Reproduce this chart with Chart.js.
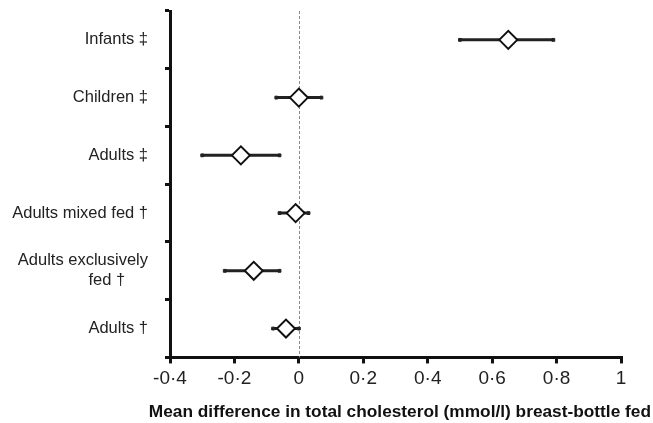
<!DOCTYPE html>
<html>
<head>
<meta charset="utf-8">
<script src="https://cdn.jsdelivr.net/npm/chart.js@4/dist/chart.umd.min.js"></script>
<style>
  html, body { margin: 0; padding: 0; background: #fff; }
  #wrap { width: 653px; height: 423px; }
</style>
</head>
<body>
<div id="wrap"><canvas id="myChart"></canvas></div>
<script>
const groups = ["Infants \u2021", "Children \u2021", "Adults \u2021", "Adults mixed fed \u2020", "Adults exclusively fed \u2020", "Adults \u2020"];
const groupLines = [["Infants \u2021"], ["Children \u2021"], ["Adults \u2021"], ["Adults mixed fed \u2020"], ["Adults exclusively", "fed \u2020     "], ["Adults \u2020"]];
const meanDiff = [0.65, 0.00, -0.18, -0.01, -0.14, -0.04];
const lowerCI = [0.50, -0.07, -0.30, -0.06, -0.23, -0.08];
const upperCI = [0.79, 0.07, -0.06, 0.03, -0.06, 0.00];
const xTickLabels = ["-0\u00b74", "-0\u00b72", "0", "0\u00b72", "0\u00b74", "0\u00b76", "0\u00b78", "1"];

const font = "'Liberation Sans', Arial, Helvetica, sans-serif";

// diamonds first so they are drawn on top of the bars
const datasets = [{
  label: "Mean difference",
  data: meanDiff.map((v, i) => ({ x: v, y: groups[i] })),
  pointStyle: "rectRot",
  pointRadius: 9,
  pointHoverRadius: 9,
  backgroundColor: "#fff",
  borderColor: "#111",
  borderWidth: 2,
  showLine: false,
}];

groups.forEach((g, i) => {
  datasets.push({
    label: "CI " + g,
    data: [{ x: lowerCI[i], y: g }, { x: upperCI[i], y: g }],
    showLine: true,
    borderColor: "#222",
    borderWidth: 3,
    pointStyle: "rect",
    pointRadius: 2,
    pointHoverRadius: 2,
    backgroundColor: "#222",
    pointBorderWidth: 1,
  });
});

// dashed line at zero
const zeroLine = {
  id: "zeroLine",
  beforeDatasetsDraw(chart) {
    const { ctx, chartArea, scales } = chart;
    const x = Math.round(scales.x.getPixelForValue(0)) + 0.5;
    ctx.save();
    ctx.strokeStyle = "#8a8a8a";
    ctx.lineWidth = 1;
    ctx.setLineDash([3, 2]);
    ctx.beginPath();
    ctx.moveTo(x, chartArea.top);
    ctx.lineTo(x, chartArea.bottom);
    ctx.stroke();
    ctx.restore();
  }
};

new Chart(document.getElementById("myChart"), {
  type: "scatter",
  data: { labels: groups, datasets: datasets },
  options: {
    responsive: true,
    maintainAspectRatio: false,
    animation: false,
    layout: { padding: { top: 11, right: 2, left: 0, bottom: 0 } },
    plugins: {
      legend: { display: false },
      tooltip: { enabled: false },
      title: {
        display: true,
        position: "bottom",
        align: "end",
        text: "Mean difference in total cholesterol (mmol/l) breast-bottle fed",
        color: "#111",
        font: { family: font, size: 17.3, weight: "bold" },
        padding: { top: 8, bottom: 0 },
      },
    },
    scales: {
      x: {
        type: "linear",
        min: -0.4,
        max: 1,
        border: { color: "#111", width: 3 },
        grid: {
          drawOnChartArea: false,
          drawTicks: true,
          tickLength: 6,
          color: "#111",
          lineWidth: 3,
        },
        ticks: {
          stepSize: 0.2,
          color: "#222",
          padding: 4,
          font: { family: font, size: 19 },
          callback: (v) => xTickLabels[Math.round((v + 0.4) / 0.2)],
        },
      },
      y: {
        type: "category",
        labels: groups,
        offset: true,
        afterFit: (s) => { s.width = 170; s.paddingTop = 0; s.paddingBottom = 0; },
        border: { color: "#111", width: 3 },
        grid: {
          offset: true,
          drawOnChartArea: false,
          drawTicks: true,
          tickLength: 5,
          color: "#111",
          lineWidth: 3,
        },
        ticks: {
          color: "#222",
          padding: 17,
          font: { family: font, size: 16.5 },
          callback: (v, i) => groupLines[i].length > 1 ? groupLines[i] : groupLines[i][0],
        },
      },
      // empty right-hand axis that only keeps the margin beside the plot
      yRight: {
        type: "category",
        labels: groups,
        position: "right",
        afterFit: (s) => { s.width = 30; s.paddingTop = 0; s.paddingBottom = 0; },
        border: { display: false },
        grid: { display: false },
        ticks: { display: false },
      },
    },
  },
  plugins: [zeroLine],
});
</script>
</body>
</html>
